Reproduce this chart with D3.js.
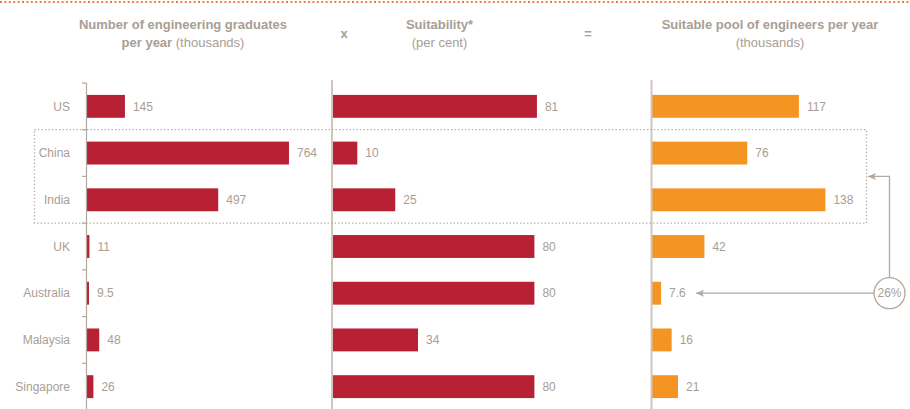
<!DOCTYPE html>
<html><head><meta charset="utf-8">
<script src="https://cdn.jsdelivr.net/npm/d3@7"></script>
<style>body{margin:0;background:#fff;} svg{display:block;font-family:"Liberation Sans",Arial,sans-serif;}</style>
</head><body>
<svg id="c" width="910" height="409"></svg>
<script>
const categories = ["US","China","India","UK","Australia","Malaysia","Singapore"];
const graduates = [145,764,497,11,9.5,48,26];
const graduateLabels = ["145","764","497","11","9.5","48","26"];
const suitability = [81,10,25,80,80,34,80];
const suitabilityLabels = ["81","10","25","80","80","34","80"];
const pool = [117,76,138,42,7.6,16,21];
const poolLabels = ["117","76","138","42","7.6","16","21"];
const highlightPct = "26%";

const svg = d3.select("#c");
const gray = "#a89e96", axisCol = "#b3a79e", red = "#b82034", orange = "#f49422";

// top orange dotted line
svg.append("line").attr("x1",0).attr("x2",910).attr("y1",2).attr("y2",2)
  .attr("stroke","#f0843a").attr("stroke-width",2.2).attr("stroke-dasharray","2,2.4");

const y = d3.scaleBand().domain(categories).range([83,410]).paddingInner(0.51).paddingOuter(0.255);
const step = y.step();

const panels = [
  {vals:graduates, labels:graduateLabels, x:d3.scaleLinear().domain([0,1000]).range([86.5,351.5]), color:red, ticks:true},
  {vals:suitability, labels:suitabilityLabels, x:d3.scaleLinear().domain([0,100]).range([332,585]), color:red, ticks:false},
  {vals:pool, labels:poolLabels, x:d3.scaleLinear().domain([0,200]).range([651.5,903.5]), color:orange, ticks:false}
];

// titles
function title(cx, boldLines, normalText, normalOnLine2Bold){
}
const t1 = svg.append("text").attr("text-anchor","middle").attr("fill",gray).attr("font-size",13);
t1.append("tspan").attr("x",183).attr("y",29).attr("font-weight","bold").text("Number of engineering graduates");
const t1b = svg.append("text").attr("text-anchor","middle").attr("fill",gray).attr("font-size",13).attr("x",183).attr("y",47);
t1b.append("tspan").attr("font-weight","bold").text("per year ");
t1b.append("tspan").text("(thousands)");

svg.append("text").attr("x",439.5).attr("y",29).attr("text-anchor","middle").attr("fill",gray)
  .attr("font-size",13).attr("font-weight","bold").text("Suitability*");
svg.append("text").attr("x",439.5).attr("y",47).attr("text-anchor","middle").attr("fill",gray)
  .attr("font-size",13).text("(per cent)");

svg.append("text").attr("x",770).attr("y",29).attr("text-anchor","middle").attr("fill",gray)
  .attr("font-size",13).attr("font-weight","bold").text("Suitable pool of engineers per year");
svg.append("text").attr("x",770).attr("y",47).attr("text-anchor","middle").attr("fill",gray)
  .attr("font-size",13).text("(thousands)");

svg.append("text").attr("x",344).attr("y",38).attr("text-anchor","middle").attr("fill",gray)
  .attr("font-size",13).attr("font-weight","bold").text("x");
svg.append("text").attr("x",588).attr("y",38).attr("text-anchor","middle").attr("fill",gray)
  .attr("font-size",13).attr("font-weight","bold").text("=");

// category labels
svg.append("g").selectAll("text").data(categories).join("text")
  .attr("x",70).attr("y",d=>y(d)+y.bandwidth()/2).attr("dy","0.35em")
  .attr("text-anchor","end").attr("fill",gray).attr("font-size",12).text(d=>d);

panels.forEach(p=>{
  const g = svg.append("g");
  const x0 = p.x(0);
  g.selectAll("rect").data(categories).join("rect")
    .attr("x",x0).attr("y",d=>y(d)).attr("height",y.bandwidth())
    .attr("width",(d,i)=>p.x(p.vals[i])-x0).attr("fill",p.color);
  g.selectAll("text").data(categories).join("text")
    .attr("x",(d,i)=>p.x(p.vals[i])+8).attr("y",d=>y(d)+y.bandwidth()/2).attr("dy","0.35em")
    .attr("fill",gray).attr("font-size",12).text((d,i)=>p.labels[i]);
  // axis
  const yTop = p.ticks ? y.range()[0] : 80;
  g.append("line").attr("x1",x0).attr("x2",x0).attr("y1",yTop).attr("y2",409)
    .attr("stroke",p.ticks?axisCol:"#cfc6bf").attr("stroke-width",p.ticks?1.2:2);
  if(p.ticks){
    const bounds = d3.range(categories.length).map(i=>y.range()[0]+i*step);
    g.selectAll("line.tk").data(bounds).join("line").attr("class","tk")
      .attr("x1",x0-4.5).attr("x2",x0).attr("y1",d=>d).attr("y2",d=>d)
      .attr("stroke",axisCol).attr("stroke-width",1.2);
  }
});

// dotted highlight box around China & India
const boxTop = y("China") - (step - y.bandwidth())/2;
const boxBot = y("India") + y.bandwidth() + (step - y.bandwidth())/2;
svg.append("rect").attr("x",34.5).attr("y",boxTop).attr("width",832).attr("height",boxBot-boxTop)
  .attr("fill","none").attr("stroke","#b3a79e").attr("stroke-width",1.3).attr("stroke-dasharray","1.3,2.2");

// connector and circle
const cx = 889.5, cy = y("Australia")+y.bandwidth()/2, r = 15.5;
const arrowY = y("India") - (step - y.bandwidth())/2 + 0; // boundary between China and India
const aus = panels[2].x(pool[4]);
svg.append("path").attr("d",`M${cx},${cy-r} V${arrowY} H${868}`)
  .attr("fill","none").attr("stroke",axisCol).attr("stroke-width",1.3);
svg.append("path").attr("d",`M${cx-r},${cy} H${aus+35}`)
  .attr("fill","none").attr("stroke",axisCol).attr("stroke-width",1.3);
function arrowHead(tx,ty){
  svg.append("path").attr("d",`M${tx},${ty} L${tx+8},${ty-3.5} L${tx+6},${ty} L${tx+8},${ty+3.5} Z`)
    .attr("fill",axisCol);
}
arrowHead(868,arrowY);
arrowHead(aus+35,cy);
svg.append("circle").attr("cx",cx).attr("cy",cy).attr("r",r).attr("fill","#fff")
  .attr("stroke",axisCol).attr("stroke-width",1.3);
svg.append("text").attr("x",cx).attr("y",cy).attr("dy","0.35em").attr("text-anchor","middle")
  .attr("fill",gray).attr("font-size",12).text(highlightPct);
</script>
</body></html>
